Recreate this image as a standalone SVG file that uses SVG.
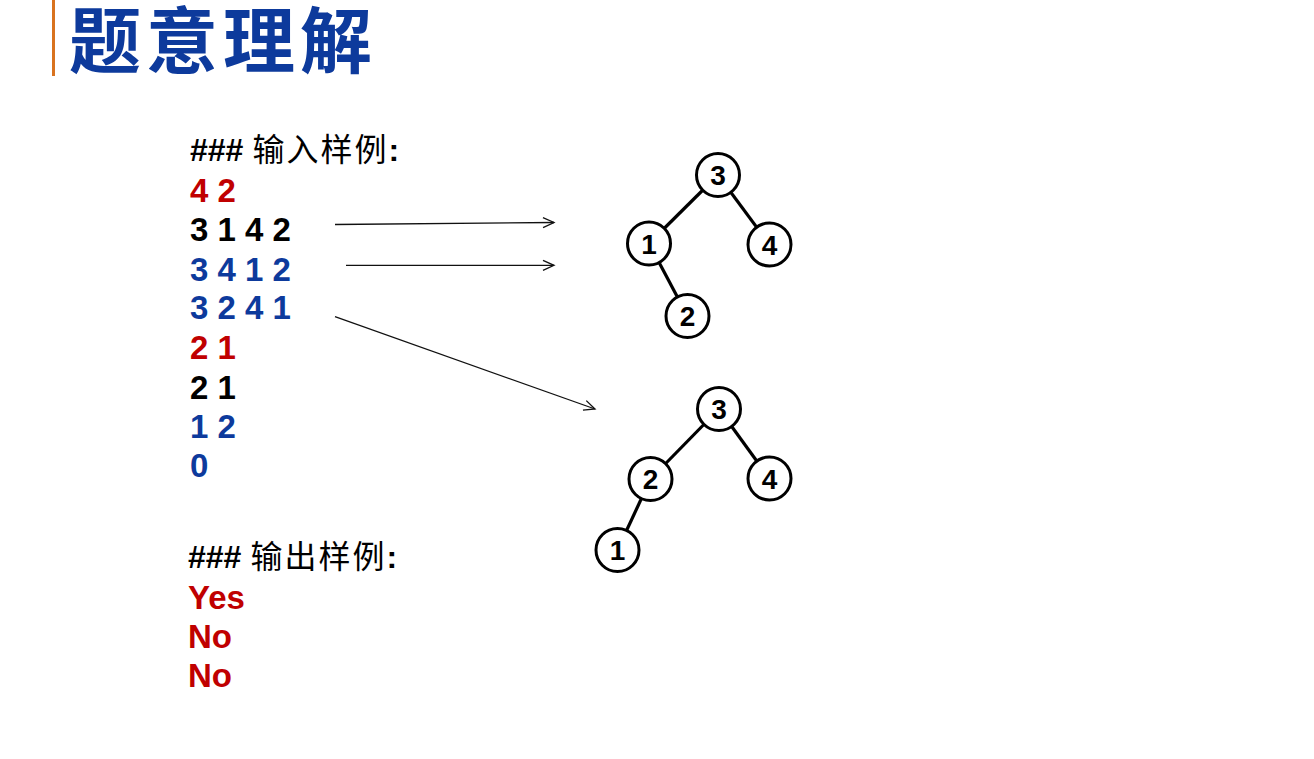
<svg xmlns="http://www.w3.org/2000/svg" width="1314" height="759" viewBox="0 0 1314 759">
<defs>
<style>
.t{font-family:"Liberation Sans","Noto Sans CJK SC",sans-serif;font-size:32px;font-weight:bold}
.d{font-size:33px}
.cn{font-family:"Noto Sans CJK SC","Liberation Sans",sans-serif;font-weight:normal;font-size:32px;letter-spacing:2px}
.red{fill:#C00000}.blk{fill:#000}.blu{fill:#0D3A9C}
.node circle{fill:#fff;stroke:#000;stroke-width:3}
.node text{font-family:"Liberation Sans",sans-serif;font-size:28px;font-weight:bold;text-anchor:middle;fill:#000}
.edge{stroke:#000;stroke-width:3.2;fill:none}
.arr{stroke:#111;stroke-width:1.3;fill:none}
</style>
<marker id="ah" markerWidth="14" markerHeight="12" refX="12" refY="6" orient="auto" markerUnits="userSpaceOnUse">
<path d="M1,1 L12,6 L1,11" fill="none" stroke="#111" stroke-width="1.3"/>
</marker>
</defs>
<rect width="1314" height="759" fill="#fff"/>
<g id="title">
<rect x="52" y="0" width="3" height="76" fill="#D9731F"/>
<text x="69" y="67" font-family="Noto Sans CJK SC,sans-serif" font-weight="bold" font-size="72" letter-spacing="5" fill="#0D3A9C">题意理解</text>
</g>
<g id="input">
<text class="t blk" x="190" y="161">###<tspan class="cn"> 输入样例</tspan>:</text>
<text class="t d red" x="190" y="202" xml:space="preserve">4 2</text>
<text class="t d blk" x="190" y="241" xml:space="preserve">3 1 4 2</text>
<text class="t d blu" x="190" y="281" xml:space="preserve">3 4 1 2</text>
<text class="t d blu" x="190" y="319" xml:space="preserve">3 2 4 1</text>
<text class="t d red" x="190" y="359" xml:space="preserve">2 1</text>
<text class="t d blk" x="190" y="399" xml:space="preserve">2 1</text>
<text class="t d blu" x="190" y="438" xml:space="preserve">1 2</text>
<text class="t d blu" x="190" y="477">0</text>
</g>
<g id="output">
<text class="t blk" x="188" y="568">###<tspan class="cn"> 输出样例</tspan>:</text>
<text class="t d red" x="188" y="609">Yes</text>
<text class="t d red" x="188" y="648">No</text>
<text class="t d red" x="188" y="687">No</text>
</g>
<g id="connectors">
<line class="arr" x1="335" y1="224.5" x2="554" y2="222.5" marker-end="url(#ah)"/>
<line class="arr" x1="346" y1="265.3" x2="554" y2="265.3" marker-end="url(#ah)"/>
<line class="arr" x1="335" y1="316.7" x2="595" y2="409" marker-end="url(#ah)"/>
<line class="edge" x1="718" y1="175" x2="649" y2="243.5"/>
<line class="edge" x1="718" y1="175" x2="769.5" y2="244.5"/>
<line class="edge" x1="649" y1="243.5" x2="687.5" y2="316"/>
<line class="edge" x1="719" y1="409" x2="650.5" y2="479"/>
<line class="edge" x1="719" y1="409" x2="769.5" y2="478.5"/>
<line class="edge" x1="650.5" y1="479" x2="617.5" y2="550"/>
</g>
<g id="t1n3" class="node"><circle cx="718" cy="175" r="21.5"/><text x="718" y="185">3</text></g>
<g id="t1n1" class="node"><circle cx="649" cy="243.5" r="21.5"/><text x="649" y="253.5">1</text></g>
<g id="t1n4" class="node"><circle cx="769.5" cy="244.5" r="21.5"/><text x="769.5" y="254.5">4</text></g>
<g id="t1n2" class="node"><circle cx="687.5" cy="316" r="21.5"/><text x="687.5" y="326">2</text></g>
<g id="t2n3" class="node"><circle cx="719" cy="409" r="21.5"/><text x="719" y="419">3</text></g>
<g id="t2n2" class="node"><circle cx="650.5" cy="479" r="21.5"/><text x="650.5" y="489">2</text></g>
<g id="t2n4" class="node"><circle cx="769.5" cy="478.5" r="21.5"/><text x="769.5" y="488.5">4</text></g>
<g id="t2n1" class="node"><circle cx="617.5" cy="550" r="21.5"/><text x="617.5" y="560">1</text></g>
</svg>
